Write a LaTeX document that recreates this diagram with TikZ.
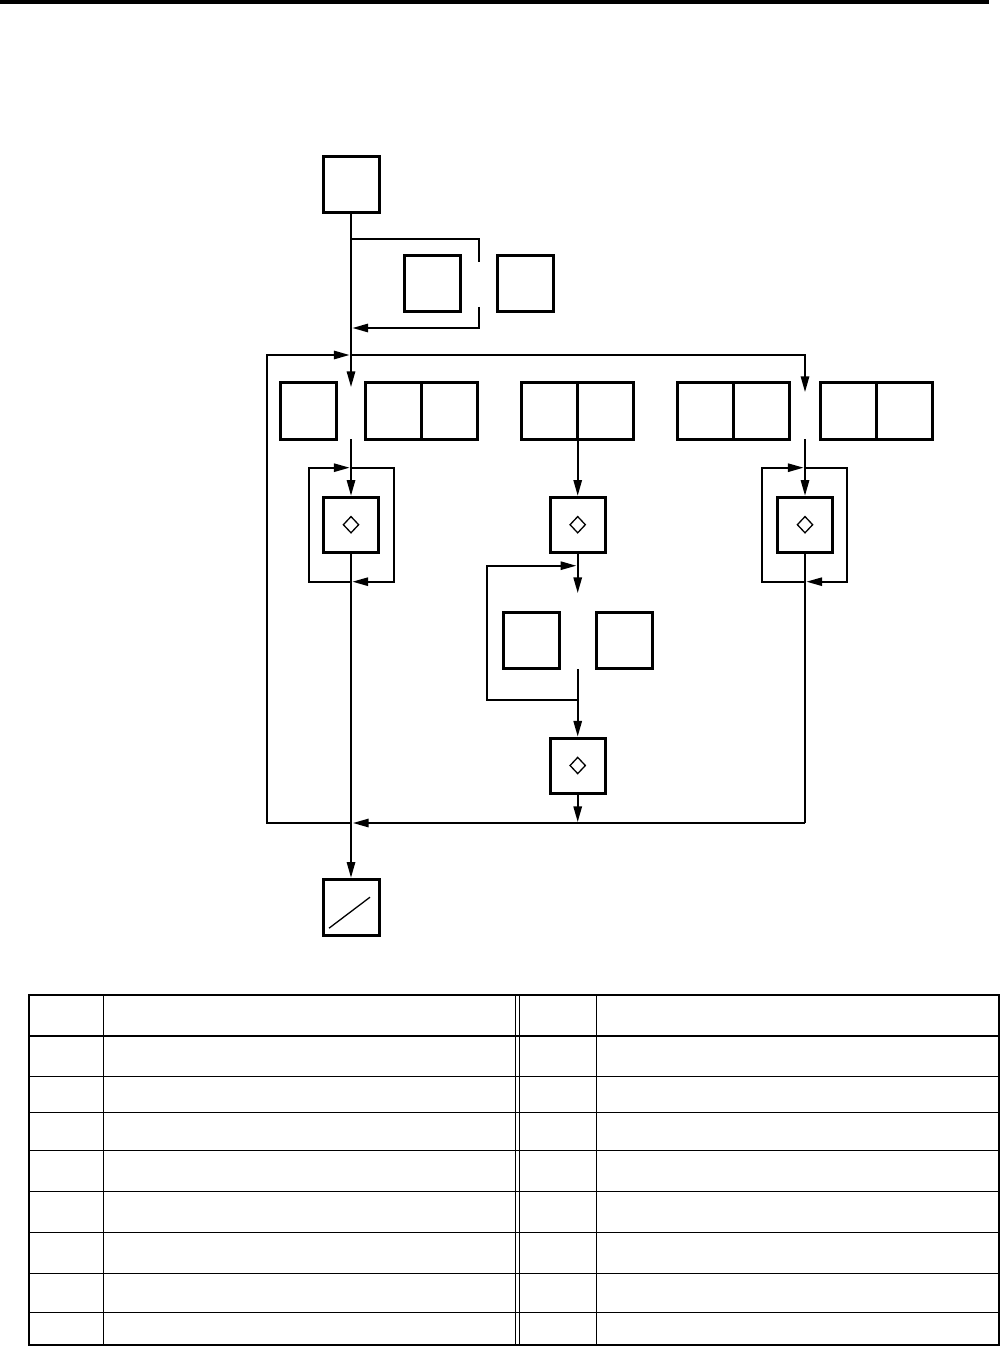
\documentclass[tikz,border=0pt]{standalone}
\usetikzlibrary{arrows.meta,shapes.geometric}
\begin{document}
\begin{tikzpicture}[x=0.5pt,y=-0.5pt,
  box/.style={draw,line width=1.5pt,minimum width=28pt,minimum height=28pt,inner sep=0pt},
  dbox/.style={draw,line width=1.5pt,minimum width=27.5pt,minimum height=27.5pt,inner sep=0pt},
  glyph/.style={draw,diamond,line width=0.65pt,minimum width=7.9pt,minimum height=8.4pt,inner sep=0pt},
  conn/.style={line width=0.8pt},
  arr/.style={conn,-{Triangle[length=7.8pt,width=4.2pt]}},
  tabthick/.style={line width=1.1pt},
  tabthin/.style={line width=0.6pt}]
\useasboundingbox (0,0) rectangle (1007,1347);
% top rule
\fill (0,0) rectangle (989,4);
% boxes
\node[box] (T) at (351,184.5) {};
\node[box] (P1) at (432,283.5) {};
\node[box] (P2) at (525.5,283.5) {};
\node[box] (A) at (308.4,411) {};
\node[box] (B1) at (393.8,411) {};
\node[box] (B2) at (449.8,411) {};
\node[box] (C1) at (549.7,411) {};
\node[box] (C2) at (605.7,411) {};
\node[box] (D1) at (705.2,411) {};
\node[box] (D2) at (761.2,411) {};
\node[box] (E1) at (848,411) {};
\node[box] (E2) at (904,411) {};
\node[dbox] (K1) at (351,524.7) {};
\node[dbox] (K2) at (577.7,524.7) {};
\node[dbox] (K3) at (805,524.7) {};
\node[dbox] (K4) at (577.7,765.5) {};
\node[box] (F) at (531.3,640) {};
\node[box] (G) at (624.7,640) {};
\node[box] (L) at (351,907.2) {};
\node[glyph] (g1) at (K1) {};
\node[glyph] (g2) at (K2) {};
\node[glyph] (g3) at (K3) {};
\node[glyph] (g4) at (K4) {};
\draw[line width=0.65pt] ([shift={(-22,21)}]L.center) -- ([shift={(19,-10)}]L.center);
% coordinates
\coordinate (j1) at (351,239);
\coordinate (b1) at (479,239);
\coordinate (b1e) at (479,262);
\coordinate (b2s) at (479,307);
\coordinate (b2c) at (479,328);
\coordinate (j2) at (352.5,328);
\coordinate (a1) at (351,387);
\coordinate (jm) at (351,355);
\coordinate (jt) at (349.5,355);
\coordinate (Lt) at (266.7,355);
\coordinate (Lb) at (266.7,823);
\coordinate (jb) at (351,823);
\coordinate (jbr) at (353,823);
\coordinate (Rt) at (805,355);
\coordinate (Rb) at (805,823);
\coordinate (e1) at (805,392);
\coordinate (e2) at (805,439);
\coordinate (c1s) at (351,439);
\coordinate (c2s) at (577.7,440);
\coordinate (l1b) at (351,581.7);
\coordinate (l1bl) at (308.7,581.7);
\coordinate (l1tl) at (308.7,467.7);
\coordinate (l1tt) at (349.5,467.7);
\coordinate (l1t) at (351,467.7);
\coordinate (l1tr) at (394,467.7);
\coordinate (l1br) at (394,581.7);
\coordinate (l1bb) at (352.5,581.7);
\coordinate (m1) at (577.7,593);
\coordinate (m2) at (577.7,669);
\coordinate (m3) at (577.7,700);
\coordinate (ml3) at (486.7,700);
\coordinate (ml2) at (486.7,565.7);
\coordinate (m2t) at (576.2,565.7);
\coordinate (m4) at (577.7,822);
\coordinate (l3b) at (805,581.7);
\coordinate (l3bl) at (762,581.7);
\coordinate (l3tl) at (762,467.7);
\coordinate (l3tt) at (803.5,467.7);
\coordinate (l3t) at (805,467.7);
\coordinate (l3tr) at (847,467.7);
\coordinate (l3br) at (847,581.7);
\coordinate (l3bb) at (806.5,581.7);
% connectors: top
\draw[arr] (T.south) -- (a1);
\draw[conn] (j1) -- (b1) -- (b1e);
\draw[arr] (b2s) -- (b2c) -- (j2);
% big loop
\draw[arr] (jb) -- (Lb) -- (Lt) -- (jt);
\draw[arr] (jm) -- (Rt) -- (e1);
\draw[conn] (K3.south) -- (Rb);
\draw[arr] (Rb) -- (jbr);
% column 1
\draw[arr] (c1s) -- (K1.north);
\draw[arr] (l1b) -- (l1bl) -- (l1tl) -- (l1tt);
\draw[arr] (l1t) -- (l1tr) -- (l1br) -- (l1bb);
\draw[arr] (K1.south) -- (L.north);
% column 2
\draw[arr] (c2s) -- (K2.north);
\draw[arr] (K2.south) -- (m1);
\draw[arr] (m3) -- (ml3) -- (ml2) -- (m2t);
\draw[arr] (m2) -- (K4.north);
\draw[arr] (K4.south) -- (m4);
% column 3
\draw[arr] (e2) -- (K3.north);
\draw[arr] (l3b) -- (l3bl) -- (l3tl) -- (l3tt);
\draw[arr] (l3t) -- (l3tr) -- (l3br) -- (l3bb);
% table
\foreach \yy in {1076.3,1112.3,1150.3,1191.3,1232.3,1273.3,1312.3}
  \draw[tabthin] (29.3,\yy) -- (999,\yy);
\draw[tabthick] (29.3,1036) -- (999,1036);
\draw[tabthin] (103.3,995.3) -- (103.3,1345.3);
\draw[tabthin] (596.7,995.3) -- (596.7,1345.3);
\draw[line width=0.5pt] (515.3,995.3) -- (515.3,1345.3);
\draw[line width=0.5pt] (519,995.3) -- (519,1345.3);
\draw[tabthick] (29.3,995.3) rectangle (999,1345.3);
\end{tikzpicture}
\end{document}
